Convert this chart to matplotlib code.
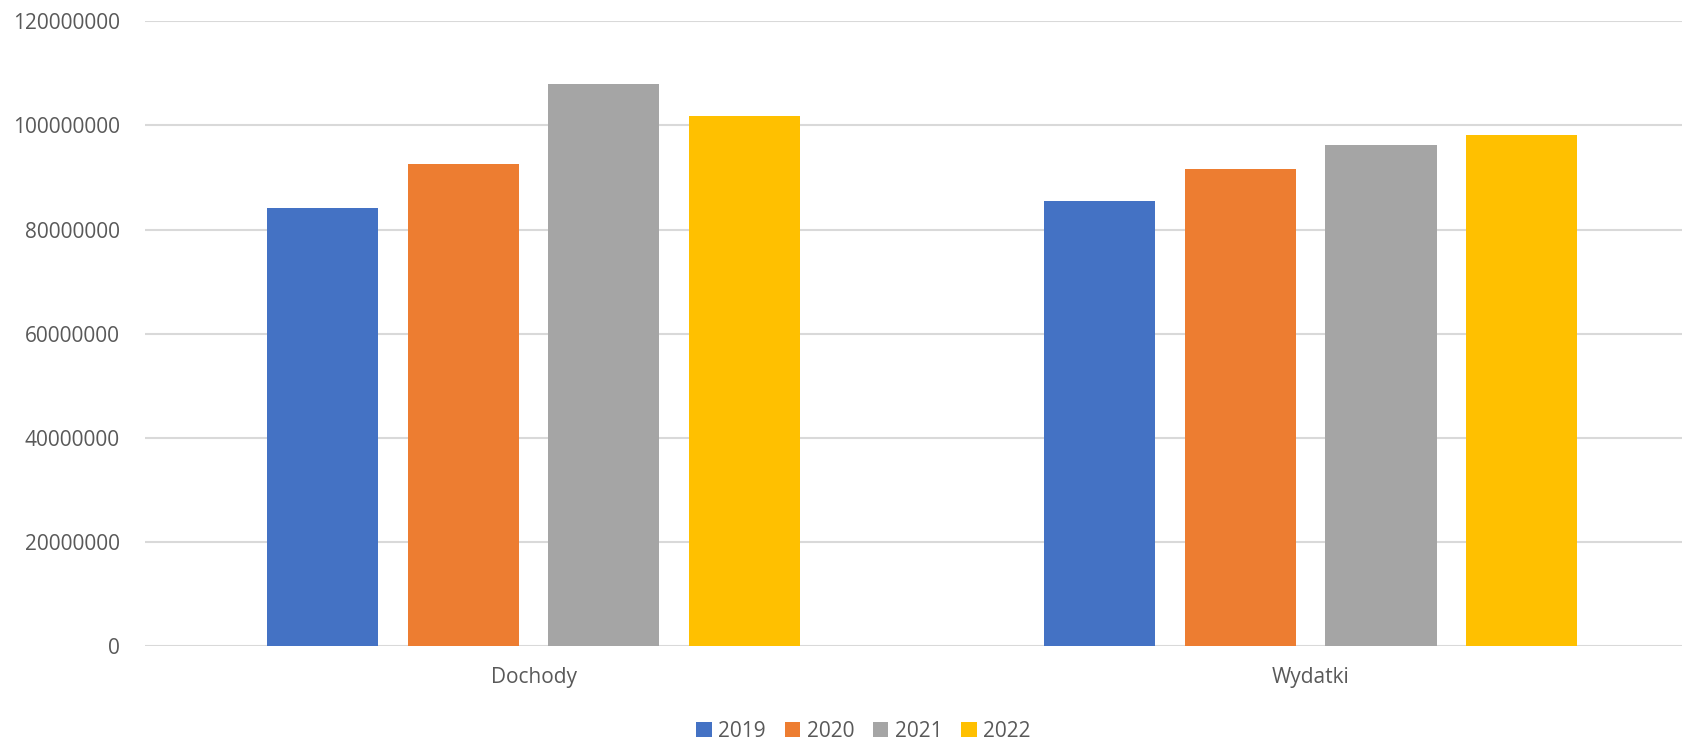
import matplotlib.pyplot as plt
import numpy as np

categories = ["Dochody", "Wydatki"]
years = ["2019", "2020", "2021", "2022"]
values = {
    "2019": [84100000, 85500000],
    "2020": [92500000, 91600000],
    "2021": [108000000, 96300000],
    "2022": [101800000, 98100000],
}
colors = ["#4472C4", "#ED7D31", "#A5A5A5", "#FFC000"]

plt.rcParams['font.family'] = ['Open Sans', 'DejaVu Sans']

fig = plt.figure(figsize=(16.83, 7.42), dpi=100)
ax = fig.add_axes([0.0862, 0.1295, 0.9234, 0.8417])

x = np.arange(len(categories))
width = 0.143
step = 0.181
for i, yr in enumerate(years):
    ax.bar(x + (i - 1.5) * step, values[yr], width, color=colors[i], label=yr, zorder=3)

ax.set_xlim(-0.5, 1.5)
ax.set_ylim(0, 120000000)
ax.set_yticks(range(0, 120000001, 20000000))
ax.set_yticklabels([str(v) for v in range(0, 120000001, 20000000)])
ax.set_xticks(x)
ax.set_xticklabels(categories)
ax.grid(axis='y', color='#d9d9d9', linewidth=1.5, zorder=0)
for s in ax.spines.values():
    s.set_visible(False)
ax.tick_params(axis='both', length=0, labelsize=15, colors='#595959')
ax.tick_params(axis='y', pad=18)
ax.tick_params(axis='x', pad=15)

fig.legend(loc='lower center', bbox_to_anchor=(0.513, -0.025), ncol=4, frameon=False,
           fontsize=15, labelcolor='#595959', handlelength=0.75, handleheight=0.75,
           handletextpad=0.3, columnspacing=0.9)

fig.savefig("out.png", dpi=100)
